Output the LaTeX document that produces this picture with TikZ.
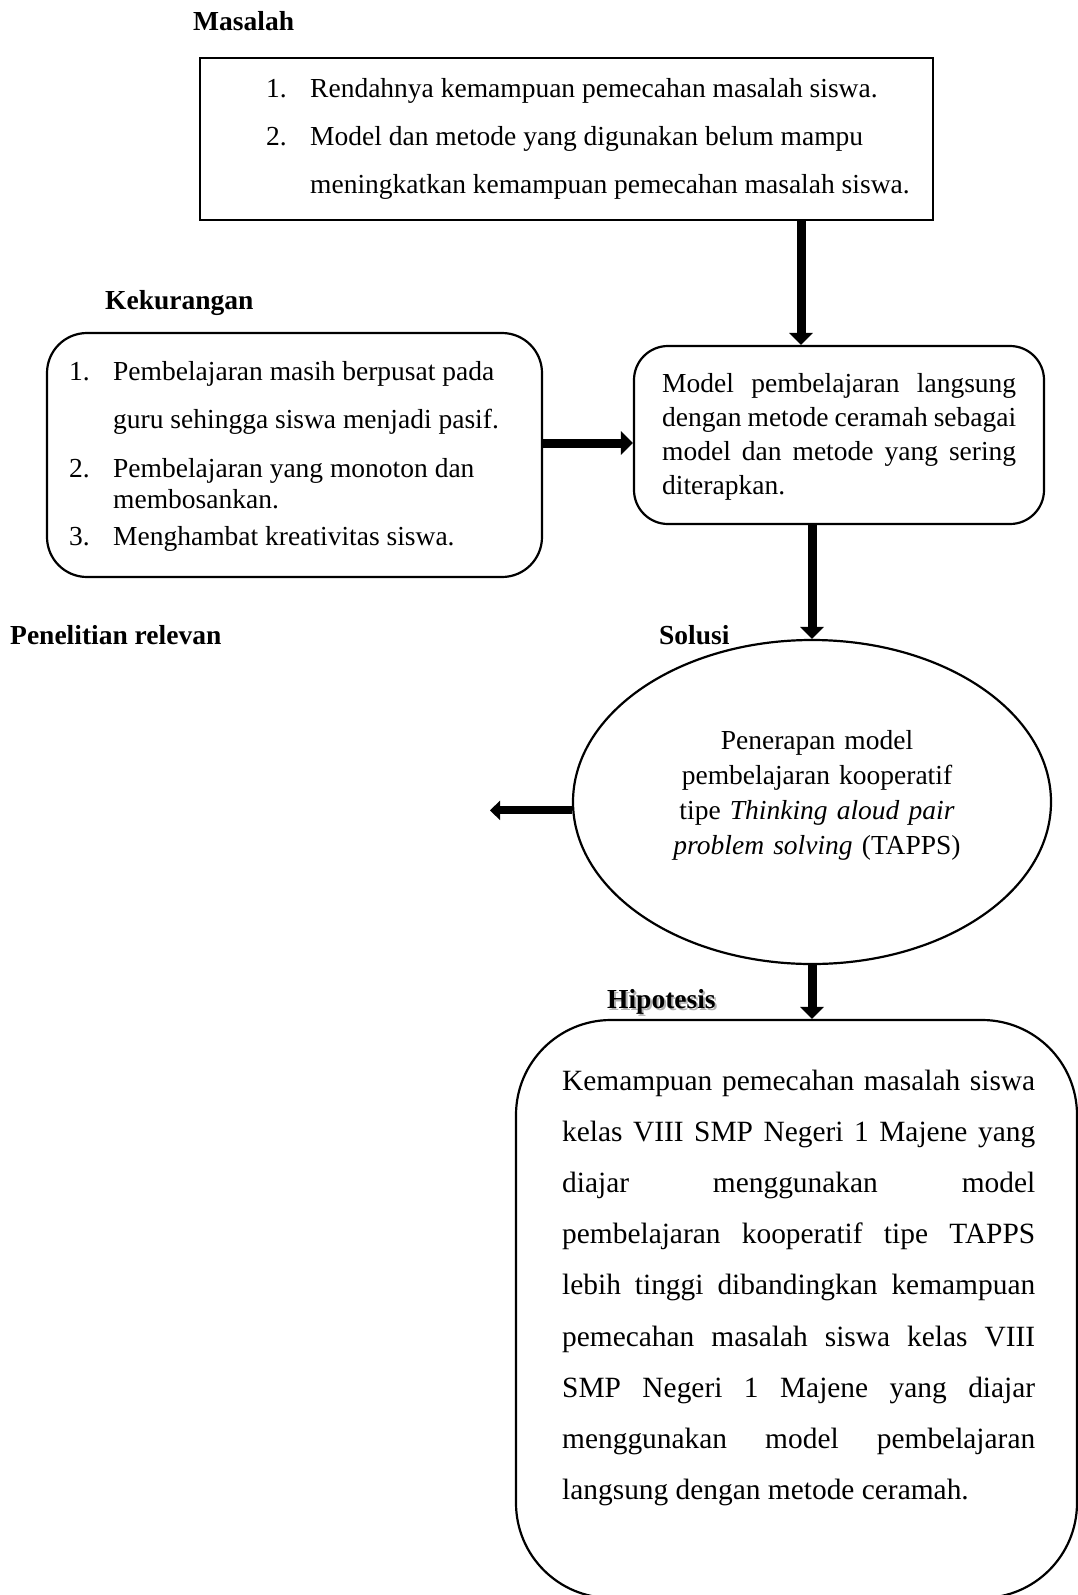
\documentclass[tikz,border=0pt]{standalone}
\usepackage{fontspec}
\setmainfont{Liberation Serif}
\usetikzlibrary{arrows.meta,shapes.geometric}
\hbadness=10000
\begin{document}
\begin{tikzpicture}[x=1pt,y=-1pt,
  box/.style={draw,line width=2.2pt,inner sep=0pt},
  arr/.style={line width=9pt,-{Triangle[width=23pt,length=12pt]}},
  lbl/.style={font=\fontsize{27.5}{33}\selectfont\bfseries,anchor=base west,inner sep=0pt},
  txt/.style={font=\fontsize{27.5}{33}\selectfont,inner sep=0pt,anchor=base west}]
\clip (0,0) rectangle (1078,1595);
% boxes
\node[box,minimum width=733pt,minimum height=162pt] (topbox) at (566.5,139) {};
\node[box,rounded corners=40pt,minimum width=495pt,minimum height=244pt] (kekbox) at (294.5,455) {};
\node[box,rounded corners=34pt,minimum width=410pt,minimum height=178pt] (modbox) at (839,435) {};
\node[box,ellipse,minimum width=478pt,minimum height=324pt] (sol) at (812,802) {};
\node[box,rounded corners=95pt,minimum width=561pt,minimum height=578pt] (hipbox) at (796.5,1309) {};
% labels
\node[lbl] (lmas) at (193,31) {Masalah};
\node[lbl] (lkek) at (105,309) {Kekurangan};
\node[lbl] (lpen) at (10,644) {Penelitian relevan};
\node[lbl] (lsol) at (659,644) {Solusi};
\node[lbl,text=black!30] (lhipsh) at (609,1010) {Hipotesis};
\node[lbl] (lhip) at (607,1008) {Hipotesis};
% texts
\node[txt] (ttop) at (266,97) {\fontsize{27.5}{48}\selectfont\begin{tabular}[t]{@{}p{44pt}@{}l@{}}1. & Rendahnya kemampuan pemecahan masalah siswa.\\ 2. & Model dan metode yang digunakan belum mampu\\ & meningkatkan kemampuan pemecahan masalah siswa.\end{tabular}};
\node[txt] (tkek) at (69,380) {\fontsize{27.5}{31}\selectfont\begin{tabular}[t]{@{}p{44pt}@{}l@{}}1. & Pembelajaran masih berpusat pada\\[17pt] & guru sehingga siswa menjadi pasif.\\[18pt] 2. & Pembelajaran yang monoton dan\\ & membosankan.\\[6pt] 3. & Menghambat kreativitas siswa.\end{tabular}};
\node[txt,text width=354pt,align=justify,font=\fontsize{27.5}{34}\selectfont] (tmod) at (662,392) {Model pembelajaran langsung\linebreak dengan metode ceramah sebagai\linebreak model dan metode yang sering\linebreak diterapkan.};
\node[txt,anchor=base,text width=340pt,align=center,font=\fontsize{27.5}{35}\selectfont] (tsol) at (817,749) {Penerapan model\\ pembelajaran kooperatif\\ tipe \textit{Thinking aloud pair}\\ \textit{problem solving} (TAPPS)};
\node[txt,text width=473pt,align=justify,font=\fontsize{29.4}{51.2}\selectfont] (thip) at (562,1090) {Kemampuan pemecahan masalah siswa\linebreak kelas VIII SMP Negeri 1 Majene yang\linebreak diajar menggunakan model\linebreak pembelajaran kooperatif tipe TAPPS\linebreak lebih tinggi dibandingkan kemampuan\linebreak pemecahan masalah siswa kelas VIII\linebreak SMP Negeri 1 Majene yang diajar\linebreak menggunakan model pembelajaran\linebreak langsung dengan metode ceramah.};
% connectors
\coordinate (a1) at (801,0);
\coordinate (a2) at (0,443);
\coordinate (pr) at (490,802);
\draw[arr] (topbox.south -| a1) -- (modbox.north -| a1);
\draw[arr] (kekbox.east |- a2) -- (modbox.west |- a2);
\draw[arr] (modbox.south -| sol.north) -- (sol.north);
\draw[line width=8pt,-{Triangle[width=19pt,length=10pt]}] (sol.182) -- (sol.182 -| pr);
\draw[arr] (sol.south) -- (hipbox.north -| sol.south);
\end{tikzpicture}
\end{document}
